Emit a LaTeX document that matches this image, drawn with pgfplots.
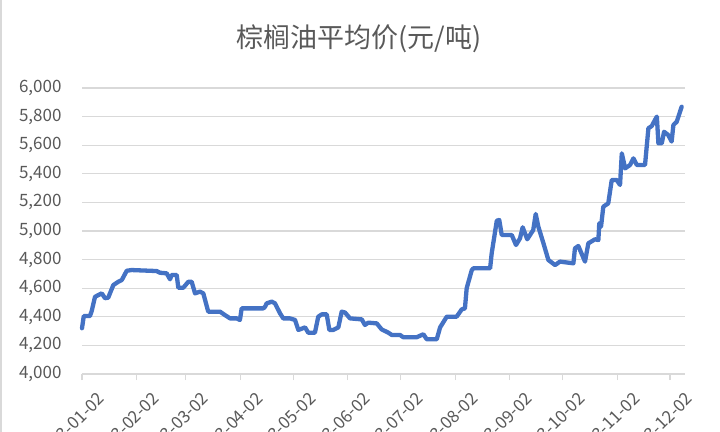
\documentclass[border=0pt]{standalone}
\usepackage{fontspec}
\usepackage{pgfplots}
\pgfplotsset{compat=1.18}
\newfontfamily\cjk{Noto Sans CJK SC}
\definecolor{linec}{RGB}{68,114,196}
\definecolor{txtc}{RGB}{89,89,89}
\definecolor{gridc}{RGB}{217,217,217}
\begin{document}
\begin{tikzpicture}
\begin{axis}[
  at={(82bp,58bp)}, anchor=south west,
  scale only axis, width=603bp, height=286bp,
  xmin=0, xmax=342.5, ymin=4000, ymax=6000,
  axis x line*=bottom, axis y line*=left,
  x axis line style={color=gridc, line width=1.2bp},
  y axis line style={draw=none},
  ymajorgrids, major grid style={color=gridc, line width=1.2bp},
  ytick={4000,4200,4400,4600,4800,5000,5200,5400,5600,5800,6000},
  yticklabels={{4,000},{4,200},{4,400},{4,600},{4,800},{5,000},{5,200},{5,400},{5,600},{5,800},{6,000}},
  ytick style={draw=none},
  xtick={0,31,59,90,120,151,181,212,243,273,304,334},
  xticklabels={2023-01-02,2023-02-02,2023-03-02,2023-04-02,2023-05-02,2023-06-02,2023-07-02,2023-08-02,2023-09-02,2023-10-02,2023-11-02,2023-12-02},
  tick align=outside, major tick length=6bp,
  xtick style={color=gridc, line width=1.2bp},
  yticklabel style={font=\cjk\fontsize{17bp}{20bp}\selectfont, text=txtc, xshift=-11bp},
  xticklabel style={font=\cjk\fontsize{17bp}{20bp}\selectfont, text=txtc, rotate=45, anchor=north east, xshift=6bp, yshift=-15bp},
  clip=false,
]
\addplot[color=linec, line width=4.3bp, line join=round, line cap=round] coordinates {
(0,4320)(1,4405)(4.5,4405)(5.5,4440)(7.4,4540)(11.2,4564)(13.1,4530)(14.9,4534)
(17.8,4622)(20.6,4645)(22.6,4657)(25.4,4722)(28.2,4727)(42.4,4720)(44.3,4708)
(48.1,4704)(50,4662)(50.9,4692)(53.8,4692)(54.7,4603)(57.5,4603)(60.4,4645)
(62.3,4645)(64.2,4564)(67,4576)(68.9,4564)(71.7,4436)(78.4,4436)(81.2,4412)
(84.1,4389)(87.9,4389)(89.7,4378)(90.7,4459)(103,4459)(104,4471)(104.9,4494)
(107.8,4506)(109.6,4494)(112.5,4424)(114.3,4389)(118.1,4389)(121,4378)
(122.9,4308)(126.7,4326)(128.5,4289)(132.3,4289)(134.2,4401)(136.2,4417)
(139,4417)(140.5,4308)(142.7,4308)(145.6,4326)(147.5,4436)(149.4,4430)
(152.2,4389)(158.9,4382)(160.7,4343)(162.6,4359)(167.4,4354)(170.2,4312)
(174,4289)(175.9,4273)(180.6,4273)(182.5,4257)(190.1,4257)(193.9,4278)
(195.8,4243)(201.5,4243)(203.4,4326)(207.2,4401)(212.8,4401)(215.7,4452)
(217.5,4459)(218.5,4600)(221.4,4727)(222.3,4739)(231.8,4739)(232.7,4844)
(235.6,5072)(237,5077)(238.4,4972)(244.1,4972)(246.5,4902)(248.8,4949)
(250.3,5026)(252.9,4942)(256.3,5007)(257.7,5119)(259.2,5030)(262.1,4914)
(264.9,4797)(268.7,4762)(271.5,4786)(279.1,4774)(280,4879)(281.9,4895)
(285.7,4786)(287.6,4914)(291.4,4942)(293.3,4937)(293.8,5054)(294.8,5030)
(296.1,5170)(298.9,5193)(300.9,5357)(303.7,5357)(305.6,5322)(306.6,5543)
(308.5,5438)(311.3,5462)(313.2,5508)(315.1,5462)(319.8,5462)(321.7,5718)
(323.6,5734)(326.5,5800)(327.4,5613)(329.3,5613)(330.6,5694)(333,5671)
(334.9,5625)(335.9,5741)(337.8,5764)(340.6,5869)
};
\end{axis}
\node[font=\cjk\fontsize{27bp}{30bp}\selectfont, text=txtc] at (359bp,393bp) {棕榈油平均价(元/吨)};
\draw[color=gridc, line width=2bp] (1bp,0) -- (1bp,432bp);
\pgfresetboundingbox
\path[use as bounding box] (0,0) rectangle (720bp,432bp);
\end{tikzpicture}
\end{document}
